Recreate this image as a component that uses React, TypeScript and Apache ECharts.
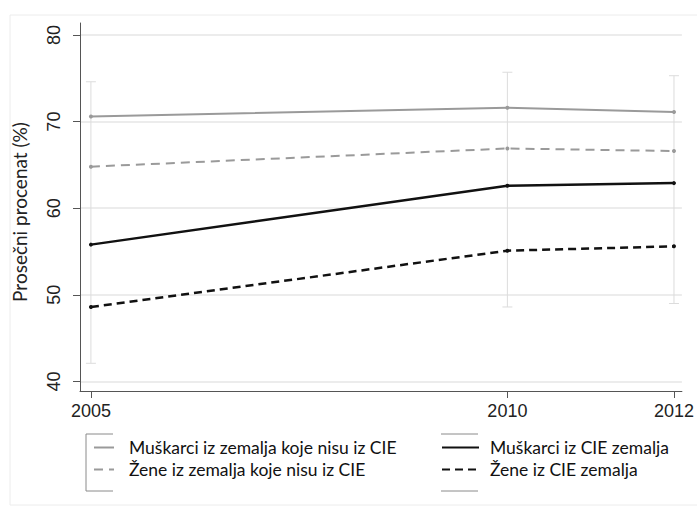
import { useEffect, useRef } from "react";
import * as echarts from "echarts";

// Survey years on the horizontal axis
const years = [2005, 2010, 2012];

// Average percentage per group and year
const menNonCIE = [70.6, 71.6, 71.1];
const womenNonCIE = [64.8, 66.9, 66.6];
const menCIE = [55.8, 62.6, 62.9];
const womenCIE = [48.6, 55.1, 55.6];

// Spread of the estimates per year (faint whiskers)
const rangeLow = [42.1, 48.6, 49.0];
const rangeHigh = [74.6, 75.7, 75.3];

const yTicks = [40, 50, 60, 70, 80];

const seriesNames = [
  "Muškarci iz zemalja koje nisu iz CIE",
  "Žene iz zemalja koje nisu iz CIE",
  "Muškarci iz CIE zemalja",
  "Žene iz CIE zemalja",
];

const LABEL_FONT = "Liberation Sans, Arial, sans-serif";
const TEXT_FONT = "Lato, 'Open Sans', sans-serif";

export default function App() {
  const ref = useRef<HTMLDivElement | null>(null);

  useEffect(() => {
    if (!ref.current) return;
    const chart = echarts.init(ref.current, null, { renderer: "svg" });

    const toPoints = (vals: number[]) => years.map((y, i) => [y, vals[i]]);

    const lineSeries = (
      name: string,
      vals: number[],
      color: string,
      width: number,
      dash: any
    ) => ({
      type: "line",
      name,
      data: toPoints(vals),
      symbol: "circle",
      symbolSize: 4,
      showSymbol: true,
      itemStyle: { color },
      lineStyle: { color, width, type: dash },
      z: 3,
    });

    const frameColor = "#8a8a8a";

    const legendBase = {
      orient: "vertical",
      top: 438,
      padding: 0,
      itemHeight: 14,
      itemGap: 3,
      itemStyle: { opacity: 0 },
    };

    chart.setOption({
      animation: false,
      backgroundColor: "#ffffff",
      grid: { left: 80, right: 9, top: 23, bottom: 117, containLabel: false },
      xAxis: {
        type: "value",
        min: 2004.869,
        max: 2012.095,
        axisLine: { show: true, lineStyle: { color: "#555", width: 1 } },
        axisTick: {
          show: true,
          customValues: years,
          length: 7,
          lineStyle: { color: "#555" },
        },
        axisLabel: {
          customValues: years,
          color: "#222",
          fontSize: 18,
          fontFamily: LABEL_FONT,
          margin: 11,
          formatter: (v: number) => String(v),
        },
        splitLine: { show: false },
      },
      yAxis: {
        type: "value",
        min: 38.9,
        max: 81.385,
        axisLine: { show: true, lineStyle: { color: "#555", width: 1 } },
        axisTick: {
          show: true,
          customValues: yTicks,
          length: 7,
          lineStyle: { color: "#555" },
        },
        axisLabel: {
          customValues: yTicks,
          rotate: 90,
          color: "#222",
          fontSize: 18,
          fontFamily: LABEL_FONT,
          margin: 17,
        },
        splitLine: {
          show: true,
          lineStyle: { color: "#e6e6e6", width: 1.5 },
        },
      },
      legend: [
        {
          ...legendBase,
          left: 93,
          itemWidth: 20,
          data: [seriesNames[0], seriesNames[1]],
          textStyle: {
            fontFamily: TEXT_FONT,
            fontSize: 17.5,
            lineHeight: 19,
            color: "#111",
            padding: [0, 0, 0, 10],
          },
        },
        {
          ...legendBase,
          left: 441,
          itemWidth: 37,
          data: [seriesNames[2], seriesNames[3]],
          textStyle: {
            fontFamily: TEXT_FONT,
            fontSize: 17.5,
            lineHeight: 19,
            color: "#111",
            padding: [0, 0, 0, 6],
          },
        },
      ],
      graphic: [
        // outer frame of the figure
        {
          type: "rect",
          shape: { x: 10, y: 15, width: 700, height: 490 },
          style: { fill: "none", stroke: "#ececec", lineWidth: 1 },
          silent: true,
          z: -1,
        },
        // legend frame pieces
        {
          type: "polyline",
          shape: { points: [[113, 434], [86, 434], [86, 491], [113, 491]] },
          style: { fill: "none", stroke: frameColor, lineWidth: 1 },
          silent: true,
        },
        {
          type: "line",
          shape: { x1: 441, y1: 434, x2: 478, y2: 434 },
          style: { stroke: frameColor, lineWidth: 1 },
          silent: true,
        },
        {
          type: "line",
          shape: { x1: 441, y1: 491, x2: 478, y2: 491 },
          style: { stroke: frameColor, lineWidth: 1 },
          silent: true,
        },
        // y axis title
        {
          type: "text",
          x: 19,
          y: 212,
          rotation: Math.PI / 2,
          style: {
            text: "Prosečni procenat (%)",
            fontSize: 19,
            fontFamily: TEXT_FONT,
            fill: "#222",
            textAlign: "center",
            textVerticalAlign: "middle",
          },
          silent: true,
        },
      ],
      series: [
        {
          type: "custom",
          silent: true,
          z: 1,
          encode: { x: 0, y: [1, 2] },
          data: years.map((y, i) => [y, rangeLow[i], rangeHigh[i]]),
          renderItem: (_params: any, api: any) => {
            const x = api.value(0);
            const lo = api.coord([x, api.value(1)]);
            const hi = api.coord([x, api.value(2)]);
            const cap = 5;
            const st = { stroke: "#dcdcdc", lineWidth: 1 };
            return {
              type: "group",
              children: [
                { type: "line", shape: { x1: lo[0], y1: lo[1], x2: hi[0], y2: hi[1] }, style: st },
                { type: "line", shape: { x1: lo[0] - cap, y1: lo[1], x2: lo[0] + cap, y2: lo[1] }, style: st },
                { type: "line", shape: { x1: hi[0] - cap, y1: hi[1], x2: hi[0] + cap, y2: hi[1] }, style: st },
              ],
            };
          },
        },
        lineSeries(seriesNames[0], menNonCIE, "#9a9a9a", 2, "solid"),
        lineSeries(seriesNames[1], womenNonCIE, "#9a9a9a", 2, [9, 6]),
        lineSeries(seriesNames[2], menCIE, "#111111", 2.5, "solid"),
        lineSeries(seriesNames[3], womenCIE, "#111111", 2.5, [8, 5]),
      ],
    });

    return () => chart.dispose();
  }, []);

  return (
    <div
      ref={ref}
      style={{ position: "fixed", left: 0, top: 0, width: 697, height: 508 }}
    />
  );
}
